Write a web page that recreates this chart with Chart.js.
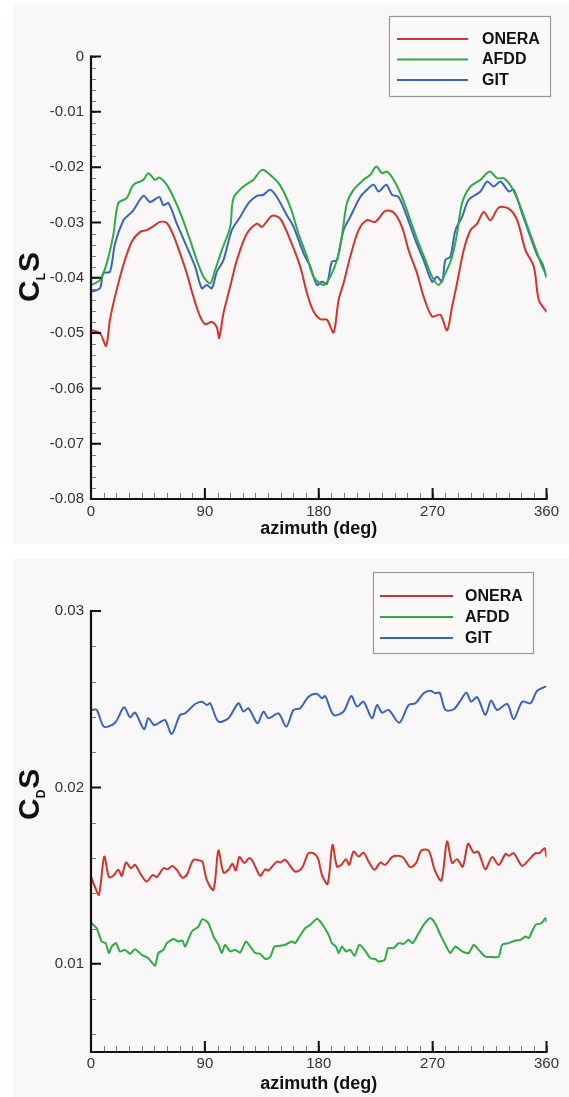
<!DOCTYPE html>
<html>
<head>
<meta charset="utf-8">
<title>Rotor lift and drag versus azimuth</title>
<script src="https://cdn.jsdelivr.net/npm/chart.js@4.4.1/dist/chart.umd.min.js"></script>
<style>
  html, body { margin: 0; padding: 0; background: #ffffff; }
  body { width: 569px; height: 1097px; position: relative; overflow: hidden; }
  .panel { position: absolute; left: 13px; width: 556px; background: #f9f7f8; }
  #p1 { top: 5px; height: 539px; }
  #p2 { top: 559px; height: 538px; }
  canvas { display: block; }
</style>
</head>
<body>
<div class="panel" id="p1"><canvas id="cls" width="556" height="539"></canvas></div>
<div class="panel" id="p2"><canvas id="cds" width="556" height="538"></canvas></div>
<script>
// ---- axis ticks ----
const azimuthTicks = [0, 90, 180, 270, 360];
const clsTicks = [0, -0.01, -0.02, -0.03, -0.04, -0.05, -0.06, -0.07, -0.08];
const cdsTicks = [0.01, 0.02, 0.03];

// ---- lift coefficient C_L S ----
const clsOneraAz = [0.5, 7.1, 11.9, 15.0, 19.0, 25.6, 32.2, 38.8, 44.1, 49.3, 54.6, 59.9, 65.1, 70.4, 75.7, 80.9, 86.2, 90.2, 95.5, 99.5, 101.3, 104.7, 110.0, 115.3, 123.2, 131.1, 135.1, 143.0, 149.5, 157.5, 165.4, 170.7, 175.9, 181.2, 186.5, 191.7, 195.7, 199.6, 204.9, 211.5, 218.1, 224.7, 232.6, 239.2, 245.8, 251.0, 257.7, 262.9, 269.6, 276.1, 281.4, 285.4, 289.3, 294.6, 299.9, 305.2, 310.4, 315.7, 322.3, 330.2, 336.8, 343.4, 350.0, 353.9, 359.8];
const clsOneraVal = [-0.0495, -0.0500, -0.0523, -0.0476, -0.0434, -0.0377, -0.0335, -0.0317, -0.0314, -0.0307, -0.0299, -0.0301, -0.0323, -0.0356, -0.0392, -0.0434, -0.0470, -0.0484, -0.0480, -0.0490, -0.0509, -0.0464, -0.0416, -0.0368, -0.0320, -0.0302, -0.0308, -0.0288, -0.0293, -0.0332, -0.0380, -0.0428, -0.0461, -0.0475, -0.0476, -0.0499, -0.0440, -0.0410, -0.0362, -0.0314, -0.0296, -0.0299, -0.0279, -0.0282, -0.0308, -0.0350, -0.0392, -0.0434, -0.0470, -0.0467, -0.0495, -0.0452, -0.0410, -0.0350, -0.0314, -0.0302, -0.0281, -0.0296, -0.0273, -0.0275, -0.0296, -0.0350, -0.0380, -0.0440, -0.0461];

const clsAfddAz = [0.5, 7.1, 12.4, 17.6, 21.6, 28.2, 33.5, 41.4, 45.3, 50.6, 54.0, 59.9, 65.1, 71.8, 78.3, 83.6, 88.9, 94.2, 98.1, 103.4, 110.0, 112.6, 120.5, 128.4, 135.1, 143.0, 149.5, 157.5, 164.0, 170.7, 175.9, 183.8, 189.1, 194.4, 198.4, 202.3, 207.5, 215.4, 220.7, 225.5, 230.0, 234.0, 239.2, 245.8, 252.4, 259.0, 264.3, 269.6, 274.8, 280.1, 285.4, 289.3, 293.3, 299.9, 307.8, 315.1, 321.0, 326.2, 332.9, 339.4, 346.0, 351.3, 356.6, 359.8];
const clsAfddVal = [-0.0413, -0.0404, -0.0374, -0.0323, -0.0265, -0.0256, -0.0232, -0.0223, -0.0211, -0.0223, -0.0219, -0.0232, -0.0254, -0.0290, -0.0332, -0.0368, -0.0398, -0.0410, -0.0386, -0.0350, -0.0308, -0.0256, -0.0235, -0.0223, -0.0205, -0.0217, -0.0233, -0.0272, -0.0320, -0.0362, -0.0398, -0.0413, -0.0398, -0.0368, -0.0323, -0.0265, -0.0241, -0.0223, -0.0214, -0.0199, -0.0211, -0.0208, -0.0223, -0.0254, -0.0296, -0.0338, -0.0368, -0.0398, -0.0413, -0.0392, -0.0362, -0.0320, -0.0265, -0.0235, -0.0223, -0.0208, -0.0220, -0.0220, -0.0238, -0.0272, -0.0314, -0.0347, -0.0380, -0.0395];

const clsGitAz = [0.5, 7.1, 9.7, 15.0, 19.0, 25.6, 29.5, 33.5, 41.4, 46.7, 54.0, 57.2, 61.2, 67.8, 75.7, 82.3, 87.6, 91.5, 95.5, 99.5, 104.7, 111.3, 117.9, 124.5, 131.1, 136.3, 141.6, 146.9, 154.8, 160.1, 168.0, 173.3, 178.6, 182.5, 186.5, 190.4, 194.4, 199.6, 204.9, 212.8, 218.1, 223.4, 227.3, 233.4, 237.9, 243.1, 249.8, 256.4, 262.9, 269.6, 273.5, 277.5, 280.1, 284.0, 288.0, 293.3, 298.5, 307.8, 313.1, 318.3, 323.6, 330.2, 334.1, 340.8, 347.3, 352.6, 356.6, 359.8];
const clsGitVal = [-0.0425, -0.0419, -0.0392, -0.0389, -0.0338, -0.0296, -0.0287, -0.0278, -0.0252, -0.0263, -0.0254, -0.0269, -0.0265, -0.0302, -0.0344, -0.0380, -0.0419, -0.0413, -0.0419, -0.0389, -0.0368, -0.0314, -0.0290, -0.0265, -0.0252, -0.0250, -0.0241, -0.0254, -0.0287, -0.0308, -0.0356, -0.0380, -0.0413, -0.0407, -0.0411, -0.0371, -0.0368, -0.0314, -0.0290, -0.0254, -0.0241, -0.0232, -0.0244, -0.0232, -0.0250, -0.0254, -0.0290, -0.0332, -0.0368, -0.0407, -0.0398, -0.0407, -0.0368, -0.0362, -0.0314, -0.0290, -0.0259, -0.0244, -0.0226, -0.0235, -0.0226, -0.0244, -0.0241, -0.0284, -0.0326, -0.0359, -0.0374, -0.0398];

// ---- drag coefficient C_D S ----
const cdsOneraAz = [0.0, 3.2, 6.3, 10.5, 14.2, 17.6, 21.6, 24.3, 27.7, 31.6, 34.8, 39.6, 44.1, 48.8, 52.0, 57.2, 60.7, 64.3, 67.8, 72.2, 75.7, 80.9, 86.2, 88.1, 91.5, 96.8, 100.7, 104.7, 108.6, 111.8, 114.5, 117.3, 121.3, 125.0, 127.9, 133.7, 137.7, 140.3, 146.9, 149.5, 153.5, 161.4, 166.7, 171.9, 176.7, 179.8, 182.5, 187.0, 190.9, 194.4, 197.8, 201.5, 204.1, 207.5, 211.5, 215.4, 219.4, 224.1, 228.7, 232.6, 237.9, 243.1, 247.1, 252.4, 256.9, 261.1, 266.9, 271.6, 276.9, 281.4, 285.4, 289.3, 293.8, 298.0, 302.5, 306.0, 311.7, 317.0, 322.3, 327.6, 330.2, 334.1, 340.8, 346.0, 351.3, 354.5, 358.4, 360.0];
const cdsOneraVal = [0.01495, 0.01434, 0.01391, 0.01608, 0.01491, 0.01499, 0.01533, 0.01499, 0.01574, 0.01542, 0.01561, 0.01504, 0.01466, 0.01504, 0.01491, 0.01542, 0.01536, 0.01555, 0.01533, 0.01489, 0.01504, 0.01589, 0.01585, 0.01580, 0.01476, 0.01419, 0.01642, 0.01517, 0.01533, 0.01567, 0.01529, 0.01605, 0.01571, 0.01599, 0.01580, 0.01499, 0.01536, 0.01529, 0.01580, 0.01574, 0.01589, 0.01523, 0.01542, 0.01627, 0.01623, 0.01589, 0.01504, 0.01453, 0.01674, 0.01551, 0.01561, 0.01593, 0.01561, 0.01636, 0.01608, 0.01630, 0.01580, 0.01533, 0.01574, 0.01561, 0.01605, 0.01612, 0.01599, 0.01548, 0.01571, 0.01642, 0.01642, 0.01533, 0.01472, 0.01693, 0.01571, 0.01593, 0.01551, 0.01680, 0.01630, 0.01636, 0.01536, 0.01605, 0.01561, 0.01623, 0.01612, 0.01627, 0.01555, 0.01589, 0.01627, 0.01627, 0.01655, 0.01608];

const cdsAfddAz = [0.5, 4.5, 8.5, 11.6, 14.2, 16.4, 19.8, 22.9, 26.9, 30.9, 34.8, 40.1, 45.3, 50.6, 53.2, 57.2, 59.9, 65.1, 69.1, 72.2, 74.4, 79.7, 84.9, 88.1, 92.8, 96.8, 100.7, 103.4, 106.0, 110.0, 113.9, 117.9, 122.4, 125.8, 129.8, 133.7, 137.7, 141.6, 145.0, 149.5, 153.5, 158.8, 161.4, 164.0, 169.3, 173.3, 178.6, 182.5, 187.8, 190.4, 193.6, 195.7, 198.4, 201.5, 204.9, 208.3, 212.0, 216.2, 220.7, 224.7, 227.3, 232.1, 234.8, 239.2, 243.1, 247.1, 251.0, 254.2, 259.0, 262.9, 268.2, 272.2, 276.1, 280.1, 284.0, 288.0, 293.3, 298.5, 302.5, 306.4, 311.7, 317.0, 322.3, 324.9, 330.2, 335.5, 339.4, 343.4, 346.0, 351.3, 356.0, 359.2, 360.0];
const cdsAfddVal = [0.01230, 0.01202, 0.01126, 0.01117, 0.01061, 0.01098, 0.01117, 0.01070, 0.01079, 0.01057, 0.01083, 0.01051, 0.01032, 0.00989, 0.01061, 0.01079, 0.01117, 0.01140, 0.01126, 0.01132, 0.01098, 0.01183, 0.01211, 0.01253, 0.01230, 0.01155, 0.01108, 0.01061, 0.01108, 0.01070, 0.01079, 0.01064, 0.01126, 0.01098, 0.01061, 0.01057, 0.01027, 0.01038, 0.01098, 0.01102, 0.01108, 0.01126, 0.01117, 0.01146, 0.01202, 0.01221, 0.01256, 0.01227, 0.01164, 0.01117, 0.01098, 0.01061, 0.01098, 0.01070, 0.01079, 0.01045, 0.01108, 0.01079, 0.01032, 0.01027, 0.01013, 0.01023, 0.01089, 0.01089, 0.01117, 0.01113, 0.01136, 0.01117, 0.01174, 0.01221, 0.01259, 0.01227, 0.01164, 0.01108, 0.01061, 0.01098, 0.01070, 0.01061, 0.01108, 0.01079, 0.01041, 0.01038, 0.01041, 0.01108, 0.01117, 0.01132, 0.01136, 0.01155, 0.01146, 0.01221, 0.01230, 0.01259, 0.01240];

const cdsGitAz = [0.5, 4.5, 10.3, 19.0, 26.1, 30.9, 34.8, 41.9, 45.3, 49.8, 54.0, 58.5, 63.8, 70.4, 74.4, 82.3, 87.6, 91.5, 94.2, 100.7, 108.6, 116.5, 120.5, 124.5, 131.6, 136.3, 140.3, 148.2, 154.3, 160.1, 165.4, 171.9, 178.6, 182.5, 185.1, 191.7, 199.6, 205.7, 210.2, 215.4, 222.1, 226.0, 230.0, 235.2, 243.7, 251.0, 256.4, 262.9, 268.2, 272.2, 275.6, 280.1, 286.7, 291.4, 296.7, 300.4, 305.2, 311.7, 316.2, 321.0, 328.9, 334.1, 340.8, 347.3, 352.6, 359.2];
const cdsGitVal = [0.02439, 0.02440, 0.02344, 0.02367, 0.02454, 0.02398, 0.02424, 0.02330, 0.02392, 0.02354, 0.02367, 0.02382, 0.02303, 0.02411, 0.02420, 0.02473, 0.02486, 0.02467, 0.02477, 0.02373, 0.02392, 0.02477, 0.02430, 0.02449, 0.02364, 0.02430, 0.02392, 0.02420, 0.02344, 0.02439, 0.02449, 0.02514, 0.02530, 0.02505, 0.02518, 0.02411, 0.02430, 0.02518, 0.02458, 0.02486, 0.02392, 0.02467, 0.02424, 0.02439, 0.02367, 0.02467, 0.02477, 0.02534, 0.02548, 0.02534, 0.02537, 0.02439, 0.02443, 0.02486, 0.02537, 0.02486, 0.02511, 0.02411, 0.02492, 0.02439, 0.02473, 0.02387, 0.02486, 0.02477, 0.02548, 0.02571];

// ---- styling ----
const FONT = "'Liberation Sans', Arial, Helvetica, sans-serif";
const RED = 'rgb(214, 50, 42)';
const GREEN = 'rgb(46, 172, 66)';
const BLUE = 'rgb(58, 100, 192)';

function points(az, val) {
  return az.map((a, i) => ({ x: a, y: val[i] }));
}

function series(label, color, az, val, tension) {
  return {
    label, data: points(az, val),
    borderColor: color, backgroundColor: color,
    borderWidth: 2, pointRadius: 0, tension, fill: false,
    borderJoinStyle: 'round', borderCapStyle: 'round'
  };
}

function fmt(v) {
  return String(Number(v.toFixed(3)));
}

// Draws the inward tick marks, the L-shaped axis frame,
// the rotated y title with its subscript and the boxed legend.
const framePlugin = {
  id: 'frame',
  afterDatasetsDraw(chart, args, o) {
    const { ctx, chartArea: a, scales: { x, y } } = chart;
    ctx.save();

    // minor ticks
    ctx.strokeStyle = '#7d7d7d';
    ctx.lineWidth = 1;
    ctx.beginPath();
    const nx = Math.round((x.max - x.min) / o.xMinor);
    for (let i = 0; i <= nx; i++) {
      const px = Math.round(x.getPixelForValue(x.min + i * o.xMinor)) + 0.5;
      ctx.moveTo(px, a.bottom);
      ctx.lineTo(px, a.bottom - 6);
    }
    const y0 = Math.ceil(y.min / o.yMinor - 1e-6);
    const y1 = Math.floor(y.max / o.yMinor + 1e-6);
    for (let k = y0; k <= y1; k++) {
      const py = Math.round(y.getPixelForValue(k * o.yMinor)) + 0.5;
      ctx.moveTo(a.left, py);
      ctx.lineTo(a.left + 5, py);
    }
    ctx.stroke();

    // major ticks
    ctx.strokeStyle = '#111';
    ctx.lineWidth = 2;
    ctx.beginPath();
    x.ticks.forEach(t => {
      const px = x.getPixelForValue(t.value);
      ctx.moveTo(px, a.bottom);
      ctx.lineTo(px, a.bottom - 11);
    });
    y.ticks.forEach(t => {
      const py = y.getPixelForValue(t.value);
      ctx.moveTo(a.left, py);
      ctx.lineTo(a.left + 10, py);
    });
    ctx.stroke();

    // axis lines
    ctx.lineWidth = 2.2;
    ctx.beginPath();
    ctx.moveTo(a.left, a.top - 1);
    ctx.lineTo(a.left, a.bottom);
    ctx.lineTo(a.right + 1, a.bottom);
    ctx.stroke();

    // y title: C<sub>S
    const t = o.yTitle;
    ctx.translate(t.x, t.y);
    ctx.rotate(-Math.PI / 2);
    ctx.fillStyle = '#111';
    ctx.textBaseline = 'alphabetic';
    ctx.textAlign = 'left';
    ctx.font = 'bold 30px ' + FONT;
    ctx.fillText(t.main, 0, 0);
    let cx = ctx.measureText(t.main).width;
    ctx.font = 'bold 12px ' + FONT;
    ctx.fillText(t.sub, cx, 6);
    cx += ctx.measureText(t.sub).width + 1;
    ctx.font = 'bold 30px ' + FONT;
    ctx.fillText(t.tail, cx, 0);
    ctx.setTransform(1, 0, 0, 1, 0, 0);

    // legend
    const L = o.legend;
    ctx.fillStyle = '#fbfafb';
    ctx.fillRect(L.x, L.y, L.w, L.h);
    ctx.strokeStyle = '#9a9a9a';
    ctx.lineWidth = 1.2;
    ctx.strokeRect(L.x + 0.5, L.y + 0.5, L.w, L.h);
    ctx.font = 'bold 16px ' + FONT;
    ctx.textBaseline = 'middle';
    ctx.textAlign = 'left';
    chart.data.datasets.forEach((ds, i) => {
      const ry = L.rowY + i * L.rowGap;
      ctx.strokeStyle = ds.borderColor;
      ctx.lineWidth = 2;
      ctx.beginPath();
      ctx.moveTo(L.lineX0, ry);
      ctx.lineTo(L.lineX1, ry);
      ctx.stroke();
      ctx.fillStyle = '#111';
      ctx.fillText(ds.label, L.textX, ry + 0.5);
    });
    ctx.restore();
  }
};

function makeChart(id, datasets, cfg) {
  return new Chart(document.getElementById(id), {
    type: 'line',
    data: { datasets },
    plugins: [framePlugin],
    options: {
      responsive: false,
      animation: false,
      events: [],
      layout: { padding: { top: cfg.padTop, right: 22.5, left: 0, bottom: 0 } },
      plugins: {
        legend: { display: false },
        tooltip: { enabled: false },
        frame: {
          xMinor: 10,
          yMinor: 0.002,
          yTitle: cfg.yTitle,
          legend: cfg.legend
        }
      },
      scales: {
        x: {
          type: 'linear',
          min: 0, max: 360,
          grid: { display: false, drawTicks: false },
          border: { display: false },
          afterBuildTicks: s => { s.ticks = azimuthTicks.map(v => ({ value: v })); },
          afterFit: s => { s.height = 45; },
          ticks: {
            padding: cfg.xTickPad,
            color: '#333',
            font: { family: FONT, size: 15 },
            maxRotation: 0,
            callback: v => fmt(v)
          },
          title: {
            display: true,
            text: 'azimuth (deg)',
            color: '#111',
            font: { family: FONT, size: 18, weight: 'bold' },
            padding: { top: 0, bottom: cfg.xTitlePad }
          }
        },
        y: {
          type: 'linear',
          min: cfg.yMin, max: cfg.yMax,
          grid: { display: false, drawTicks: false },
          border: { display: false },
          afterBuildTicks: s => { s.ticks = cfg.yTicks.map(v => ({ value: v })); },
          afterFit: s => { s.width = 78; },
          ticks: {
            padding: 7,
            color: '#333',
            font: { family: FONT, size: 15 },
            callback: v => fmt(v)
          }
        }
      }
    }
  });
}

makeChart('cls', [
  series('ONERA', RED, clsOneraAz, clsOneraVal, 0.3),
  series('AFDD', GREEN, clsAfddAz, clsAfddVal, 0.3),
  series('GIT', BLUE, clsGitAz, clsGitVal, 0.3)
], {
  yMin: -0.08, yMax: 0, yTicks: clsTicks,
  padTop: 51.5, xTickPad: 4, xTitlePad: 4,
  yTitle: { x: 25.5, y: 297, main: 'C', sub: 'L', tail: 'S' },
  legend: { x: 376, y: 11, w: 161, h: 80, lineX0: 384, lineX1: 455, textX: 469, rowY: 34, rowGap: 20.5 }
});

makeChart('cds', [
  series('ONERA', RED, cdsOneraAz, cdsOneraVal, 0.3),
  series('AFDD', GREEN, cdsAfddAz, cdsAfddVal, 0.2),
  series('GIT', BLUE, cdsGitAz, cdsGitVal, 0.3)
], {
  yMin: 0.005, yMax: 0.03, yTicks: cdsTicks,
  padTop: 52, xTickPad: 3, xTitlePad: 2,
  yTitle: { x: 25.5, y: 261, main: 'C', sub: 'D', tail: 'S' },
  legend: { x: 360, y: 13, w: 160, h: 81, lineX0: 367, lineX1: 440, textX: 452, rowY: 37, rowGap: 21 }
});
</script>
</body>
</html>
